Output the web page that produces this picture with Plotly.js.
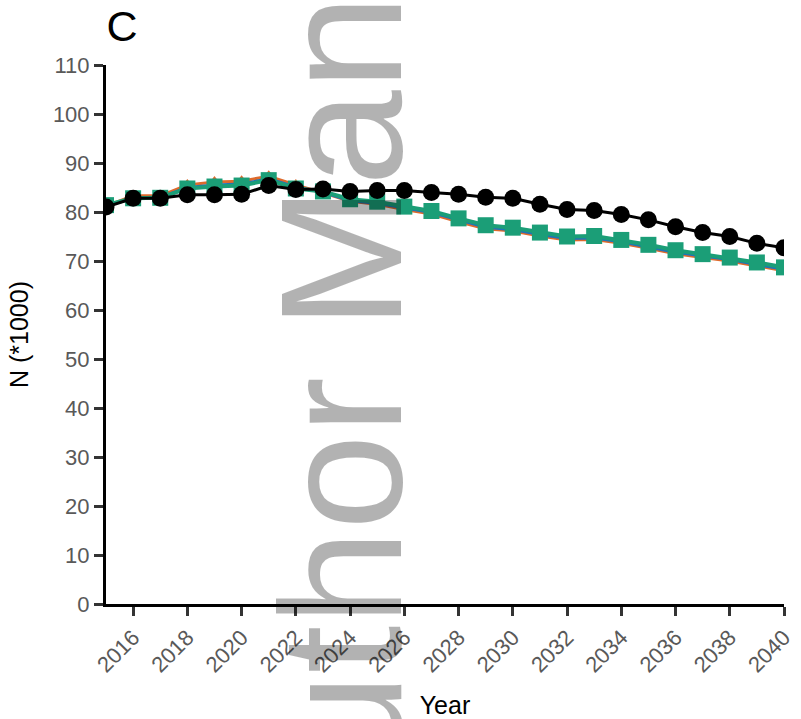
<!DOCTYPE html>
<html>
<head>
<meta charset="utf-8">
<script src="https://cdn.plot.ly/plotly-3.0.1.min.js"></script>
<style>html,body{margin:0;padding:0;background:#fff;}#chart{width:801px;height:719px;}</style>
</head>
<body>
<div id="chart"></div>
<script>
const years = [2015,2016,2017,2018,2019,2020,2021,2022,2023,2024,2025,2026,2027,2028,2029,2030,2031,2032,2033,2034,2035,2036,2037,2038,2039,2040];
const seriesOrange = [81.2,83.3,83.3,85.5,86.1,86.3,87.3,85.5,83.9,82.2,81.6,80.5,79.6,78.0,76.6,76.1,75.1,74.3,74.4,73.6,72.6,71.5,70.7,70.0,69.0,68.0];
const seriesBlue   = [81.2,82.9,83.0,85.0,85.5,85.7,86.8,85.1,84.0,82.3,81.8,80.8,79.9,78.4,76.9,76.4,75.4,74.6,74.7,73.9,72.9,71.8,71.0,70.3,69.3,68.3];
const seriesGreen  = [81.4,82.8,82.9,84.8,85.2,85.4,86.5,84.8,84.2,82.6,82.1,81.1,80.2,78.7,77.3,76.8,75.8,75.0,75.1,74.3,73.3,72.2,71.4,70.7,69.7,68.7];
const seriesBlack  = [81.0,82.8,82.8,83.5,83.5,83.6,85.4,84.6,84.7,84.2,84.4,84.4,84.0,83.6,83.0,82.8,81.6,80.5,80.3,79.5,78.4,77.0,75.8,75.0,73.6,72.7];
const xTickVals = [2016,2018,2020,2022,2024,2026,2028,2030,2032,2034,2036,2038,2040];
const yTickVals = [0,10,20,30,40,50,60,70,80,90,100,110];
const panelLabel = 'C';
const xTitle = 'Year';
const yTitle = 'N (*1000)';
const watermark = 'uthor Man';

const W = 801, H = 719;
const L = 106, R = 17, T = 65, B = 115;
const pw = W - L - R, ph = H - T - B;
const px = p => (p - L) / pw;
const py = p => (H - B - p) / ph;

const FONT = 'Liberation Sans, Arial, sans-serif';

const traces = [
  {x: years, y: seriesOrange, mode: 'lines+markers', line: {color: '#DE6A2C', width: 3},
   marker: {symbol: 'triangle-up', size: 12, color: '#DE6A2C'}},
  {x: years, y: seriesBlue, mode: 'lines+markers', line: {color: '#1F74B8', width: 3},
   marker: {symbol: 'diamond', size: 7, color: '#1F74B8'}},
  {x: years, y: seriesGreen, mode: 'lines+markers', line: {color: '#1B9E77', width: 4},
   marker: {symbol: 'square', size: 16, color: '#1B9E77'}},
  {x: years, y: seriesBlack, mode: 'lines+markers', line: {color: '#000000', width: 3},
   marker: {symbol: 'circle', size: 17, color: '#000000'}}
];

const layout = {
  width: W, height: H,
  margin: {l: L, r: R, t: T, b: B},
  paper_bgcolor: '#ffffff', plot_bgcolor: '#ffffff',
  showlegend: false,
  font: {family: FONT, color: '#000'},
  title: {text: panelLabel, font: {size: 43, color: '#000', family: FONT},
          xref: 'container', yref: 'container',
          x: 122 / W, xanchor: 'center', y: 1 - 26 / H, yanchor: 'middle'},
  xaxis: {
    range: [2015, 2040], tickmode: 'array', tickvals: xTickVals, ticktext: xTickVals.map(String),
    tickangle: -45, ticks: 'outside', ticklen: 9, tickwidth: 3, tickcolor: '#333',
    tickfont: {size: 22, color: '#595959', family: FONT},
    showline: true, linecolor: '#000', linewidth: 3, showgrid: false, zeroline: false,
    title: {text: xTitle, font: {size: 25, color: '#000', family: FONT}, standoff: 24}
  },
  yaxis: {
    range: [0, 110], tickmode: 'array', tickvals: yTickVals, ticktext: yTickVals.map(String),
    ticks: 'outside', ticklen: 9, tickwidth: 3, tickcolor: '#333',
    tickfont: {size: 22, color: '#595959', family: FONT},
    showline: true, linecolor: '#000', linewidth: 3, showgrid: false, zeroline: false,
    title: {text: yTitle, font: {size: 25, color: '#000', family: FONT}, standoff: 18}
  },
  annotations: [
    {text: watermark, xref: 'paper', yref: 'paper', x: px(341), y: py(382),
     xanchor: 'center', yanchor: 'middle', textangle: -90, showarrow: false,
     font: {size: 172, color: 'rgba(0,0,0,0.3)', family: FONT}}
  ]
};

Plotly.newPlot('chart', traces, layout, {staticPlot: true, displayModeBar: false});
</script>
</body>
</html>
